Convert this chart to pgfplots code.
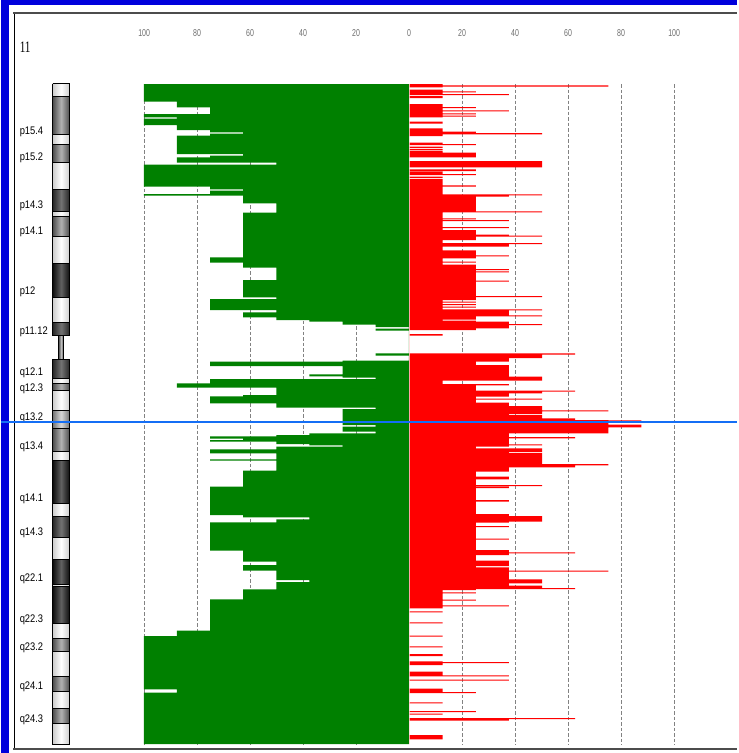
\documentclass[border=0pt]{standalone}
\usepackage{pgfplots}
\pgfplotsset{compat=1.18}
\usepackage{pgfplotstable}
\usepackage{fontspec}
\setmainfont{Liberation Sans}
\newfontfamily\bandfont[FakeStretch=0.85]{Liberation Sans}
\newfontfamily\tickfont[FakeStretch=0.7]{Liberation Sans}
\newfontfamily\chrfont[FakeStretch=0.7]{Liberation Serif}
\definecolor{lossgreen}{RGB}{0,128,0}
\definecolor{gainred}{RGB}{255,0,0}
\definecolor{frameblue}{RGB}{0,0,220}
\definecolor{markblue}{RGB}{20,110,245}
\definecolor{gridgray}{RGB}{130,130,130}
\definecolor{ticktext}{RGB}{110,110,110}

% loss profile: segment start (pixel row) and percentage of cases
\pgfplotstableread{
y v
84 0
84 100
101.7 87.5
107.3 75
114 100
117.3 87.5
118.5 100
125 87.5
130 75
132.3 62.5
133.7 75
135.7 87.5
154 62.5
155.5 75
157.3 87.5
162.7 50
164.7 100
186.7 75
189.3 62.5
190.7 75
194 100
195.7 62.5
203.3 50
212.7 62.5
257.3 75
262.7 62.5
267.7 50
280 62.5
297.3 50
299 75
310 50
312.3 62.5
317.3 50
320 37.5
321.7 25
324.5 12.5
327 0
328.5 12.5
330.5 0
353.3 12.5
355.7 0
360.7 25
361.7 75
366 25
374.3 37.5
376.3 25
377.7 12.5
379 75
383.3 87.5
387.7 50
395 62.5
396.3 75
403.3 50
407.7 12.5
409 25
425 12.5
426.7 25
431.7 12.5
433.3 37.5
435 50
436.3 75
438.7 62.5
440 75
441.7 50
444 37.5
445.3 25
446.7 50
449.3 75
453.3 50
459.3 75
460.7 50
470.7 62.5
486.7 75
515 62.5
517.3 37.5
519.3 50
522.3 75
550.7 62.5
561.7 50
565 62.5
570.7 50
580 37.5
582 50
589.3 62.5
599.3 75
630.7 87.5
636 100
689.3 87.5
692.7 100
744 0
}\losstab

% gain profile
\pgfplotstableread{
y v
84 0
84 12.5
85.3 75
86.7 12.5
87.3 0
89.7 12.5
91.3 25
92.3 12.5
94 37.5
95 0
96 12.5
98 0
104 12.5
107 25
108 12.5
110.3 37.5
111.3 12.5
113.3 25
114.3 12.5
115.7 25
116.7 12.5
117.3 0
121.7 12.5
123.7 0
128.3 12.5
131.7 25
133 50
134.3 12.5
136 0
142.7 12.5
144 25
145 0
146.7 12.5
148 0
149 12.5
150.3 0
151 12.5
152.7 25
157.3 0
161 50
167.3 0
169.3 25
171 0
171.7 12.5
174 25
175 0
176.7 12.5
178 0
179 12.5
185.3 25
186.7 12.5
194.3 50
195.3 37.5
196.7 25
211.3 50
212.3 12.5
218.3 25
219.3 12.5
220 37.5
221 12.5
227 37.5
228 12.5
230 25
234.7 37.5
235.7 50
236.7 25
240 12.5
243 50
244 37.5
246.7 12.5
250.3 25
255.3 37.5
256.3 25
258.3 12.5
261.7 25
262.7 12.5
264.7 25
269 37.5
270 25
271.3 37.5
272.3 25
280.7 37.5
281.7 25
296 50
297 25
300 12.5
301.7 25
302.7 12.5
304 25
305 12.5
306.7 25
307.7 12.5
309.3 50
310.3 37.5
315.3 50
316.3 25
319.7 12.5
320.7 25
321.7 37.5
324 50
325 37.5
328.3 25
330 0
334 12.5
335.7 0
353.3 62.5
354.7 50
358 37.5
361.7 25
365 37.5
376.7 50
380.7 12.5
384 37.5
385.3 25
390.7 62.5
391.7 50
393.3 37.5
396.7 25
398.7 50
399.7 25
402.7 37.5
406 50
410.3 75
411.3 50
414 37.5
415 50
418.3 62.5
420 87.5
420.7 75
424.7 87.5
427.3 75
433.3 37.5
437 62.5
438.3 37.5
444.3 50
445.3 37.5
446.7 25
448.3 50
452 37.5
453 50
464 75
465.3 62.5
467.3 37.5
471.7 25
476.7 37.5
479.3 25
485 50
486 25
486.7 37.5
488 25
500 37.5
501.7 25
514 37.5
516 50
521.7 37.5
522.7 25
526 37.5
527 25
538.5 37.5
539.5 25
550 37.5
552.3 62.5
553.3 37.5
555 25
560.7 37.5
566 25
567.3 37.5
570.7 75
571.7 37.5
579.3 50
583.3 37.5
585.7 50
588 62.5
589 25
590 12.5
592.3 25
593.3 12.5
599.7 25
600.7 12.5
605.3 37.5
606.3 12.5
608.3 0
611.3 12.5
612.3 0
622.3 12.5
623.3 0
635.7 12.5
636.7 0
646.3 12.5
647.3 0
654 12.5
656 0
661.3 12.5
662 37.5
663 12.5
665 0
671.7 12.5
675.3 37.5
676.3 0
679.5 37.5
680.5 0
688.7 12.5
692 25
693 0
702.3 12.5
703.3 0
711 25
712 0
713.7 12.5
714.7 0
718 62.5
719 37.5
720.7 0
735 12.5
739.3 0
744 0
}\gaintab

\pgfplotsset{
 bw/.style={left color=black!20, right color=black!20, middle color=white},
 b25/.style={left color=black!55, right color=black!55, middle color=black!15},
 b50/.style={left color=black!70, right color=black!70, middle color=black!30},
 b75/.style={left color=black!85, right color=black!85, middle color=black!55},
 b100/.style={left color=black!95, right color=black!95, middle color=black!62},
}
\newcommand{\band}[3]{\addplot[draw=black, line width=0.8pt, #3] coordinates {(51.5,#1) (68.5,#1) (68.5,#2) (51.5,#2) (51.5,#1)};}
\newcommand{\blabel}[2]{\node[anchor=west, inner sep=0pt, font=\bandfont\fontsize{11}{11}\selectfont] at (axis cs:18.5,#1) {#2};}
\newcommand{\tlabel}[2]{\node[inner sep=0pt, text=ticktext, font=\tickfont\fontsize{10}{10}\selectfont] at (axis cs:#1,33) {#2};}

\begin{document}
\begin{tikzpicture}
\begin{axis}[
  scale only axis, width=736pt, height=753pt,
  xmin=0, xmax=736, ymin=0, ymax=753, y dir=reverse,
  hide axis, clip=false, no markers]
\fill[white] (axis cs:0,0) rectangle (axis cs:736,753);

% grid
\pgfplotsinvokeforeach{143,196,249,302,355,461,514,567,620,673}{
  \addplot[gridgray, line width=1.1pt, dash pattern=on 3.5pt off 2pt] coordinates {(#1,84) (#1,745)};
}

% loss (green, left) and gain (red, right), percentage -> pixels
\addplot[const plot mark right, fill=lossgreen, draw=none]
  table[x expr={407.7-2.65*\thisrow{v}}, y=y] {\losstab};
\addplot[const plot mark right, fill=gainred, draw=none]
  table[x expr={408.5+2.65*\thisrow{v}}, y=y] {\gaintab};

% ideogram of chromosome 11
\band{83.5}{96}{bw}
\band{96}{134}{b50}
\band{134}{144}{bw}
\band{144}{162}{b50}
\band{162}{189}{bw}
\band{189}{211}{b75}
\band{211}{216}{bw}
\band{216}{236}{b50}
\band{236}{263}{bw}
\band{263}{297}{b100}
\band{297}{322}{bw}
\band{322}{335}{b75}
\addplot[draw=black, line width=0.8pt, left color=black!70, right color=black!70, middle color=black!25]
  coordinates {(57.5,335) (62.5,335) (62.5,359) (57.5,359) (57.5,335)};
\band{359}{378}{b75}
\band{378}{383}{bw}
\band{383}{390}{b50}
\band{390}{410}{bw}
\band{410}{428}{b25}
\band{428}{451}{b50}
\band{451}{460}{bw}
\band{460}{503}{b100}
\band{503}{516}{bw}
\band{516}{537}{b75}
\band{537}{559}{bw}
\band{559}{584}{b100}
\band{584}{586}{bw}
\band{586}{623}{b100}
\band{623}{638}{bw}
\band{638}{651}{b50}
\band{651}{676}{bw}
\band{676}{691}{b50}
\band{691}{708}{bw}
\band{708}{723}{b50}
\band{723}{744.5}{bw}

% band labels
\blabel{131.7}{p15.4}
\blabel{157.3}{p15.2}
\blabel{205.7}{p14.3}
\blabel{231.7}{p14.1}
\blabel{291.7}{p12}
\blabel{331.7}{p11.12}
\blabel{372.7}{q12.1}
\blabel{389}{q12.3}
\blabel{417.5}{q13.2}
\blabel{446.5}{q13.4}
\blabel{499}{q14.1}
\blabel{532.3}{q14.3}
\blabel{578.3}{q22.1}
\blabel{619.3}{q22.3}
\blabel{647.7}{q23.2}
\blabel{686.7}{q24.1}
\blabel{720}{q24.3}

% chromosome number
\node[anchor=west, inner sep=0pt, font=\chrfont\fontsize{16}{16}\selectfont] at (axis cs:18.5,47) {11};

% scale labels
\tlabel{143}{100}
\tlabel{196}{80}
\tlabel{249}{60}
\tlabel{302}{40}
\tlabel{355}{20}
\tlabel{408}{0}
\tlabel{461}{20}
\tlabel{514}{40}
\tlabel{567}{60}
\tlabel{620}{80}
\tlabel{673}{100}

% frame
\draw[black, line width=1pt] (axis cs:13,12) -- (axis cs:13,748.5);
\draw[black!70, line width=2pt] (axis cs:12,12.5) -- (axis cs:736,12.5);
\draw[black!70, line width=2pt] (axis cs:12,748.5) -- (axis cs:736,748.5);
\fill[frameblue] (axis cs:0,0) rectangle (axis cs:8,753);
\fill[frameblue] (axis cs:0,0) rectangle (axis cs:736,5);

% marker line
\draw[markblue, line width=2.2pt] (axis cs:0,421.8) -- (axis cs:736,421.8);
\end{axis}
\end{tikzpicture}
\end{document}
